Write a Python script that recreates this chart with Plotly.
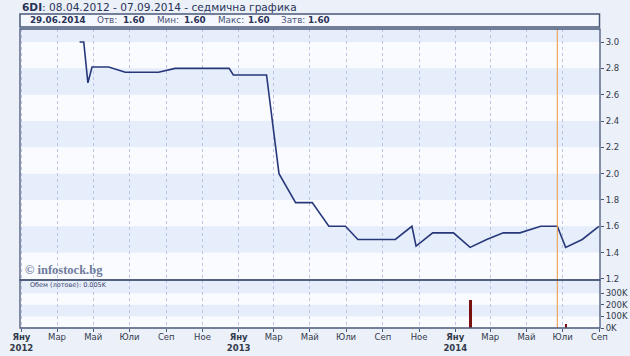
import plotly.graph_objects as go

# ---- data ----
price_dates = ["2012-04-08", "2012-04-15", "2012-04-22", "2012-04-29", "2012-05-27",
               "2012-06-24", "2012-08-19", "2012-09-16", "2012-12-16", "2012-12-23",
               "2013-02-17", "2013-03-10", "2013-04-07", "2013-05-05", "2013-06-02",
               "2013-06-30", "2013-07-21", "2013-09-22", "2013-10-20", "2013-10-27",
               "2013-11-24", "2013-12-29", "2014-01-26", "2014-02-23", "2014-03-23",
               "2014-04-20", "2014-05-25", "2014-06-22", "2014-07-06", "2014-08-03",
               "2014-08-31"]
price_values = [3.00, 3.00, 2.69, 2.81, 2.81,
                2.77, 2.77, 2.80, 2.80, 2.75,
                2.75, 2.00, 1.78, 1.78, 1.60,
                1.60, 1.50, 1.50, 1.60, 1.45,
                1.55, 1.55, 1.44, 1.50, 1.55,
                1.55, 1.60, 1.60, 1.44, 1.50,
                1.60]
volume_dates = ["2014-01-27", "2014-07-07"]
volume_values = [240000, 32000]

tick_dates = ["2012-01-01", "2012-03-01", "2012-05-01", "2012-07-01", "2012-09-01", "2012-11-01",
              "2013-01-01", "2013-03-01", "2013-05-01", "2013-07-01", "2013-09-01", "2013-11-01",
              "2014-01-01", "2014-03-01", "2014-05-01", "2014-07-01", "2014-09-01"]
month_names = ["Яну", "Мар", "Май", "Юли", "Сеп", "Ное",
               "Яну", "Мар", "Май", "Юли", "Сеп", "Ное",
               "Яну", "Мар", "Май", "Юли", "Сеп"]
year_names = ["2012", "", "", "", "", "",
              "2013", "", "", "", "", "",
              "2014", "", "", "", ""]
price_ticks = [1.2, 1.4, 1.6, 1.8, 2.0, 2.2, 2.4, 2.6, 2.8, 3.0]
volume_ticks = [0, 100000, 200000, 300000]
volume_tick_labels = ["0K", "100K", "200K", "300K"]
cursor_date = "2014-06-22"

title_code = "6DI"
title_rest = ": 08.04.2012 - 07.09.2014 - седмична графика"
info_date = "29.06.2014"
info_labels = ["Отв:", "Мин:", "Макс:", "Затв:"]
info_values = ["1.60", "1.60", "1.60", "1.60"]
volume_label = "Обем (лотове): 0.005K"
watermark = "© infostock.bg"

# ---- layout geometry ----
W, H = 630, 356
L, R, T, B = 20, 30, 29, 28
plot_h = H - T - B
split_px = 280
vol_top = (H - B - split_px) / plot_h


def px(xp):
    return (xp - L) / (W - L - R)


def py(yp):
    return (H - B - yp) / plot_h


tick_text = []
for m, y in zip(month_names, year_names):
    if y:
        tick_text.append(f"<b>{m}</b><br><b>{y}</b>")
    else:
        tick_text.append(m)

x_range = ["2011-12-29 14:00", "2014-09-01 22:00"]
p_range = [1.192, 3.099]
v_range = [0, 414000]

fig = go.Figure()
fig.add_trace(go.Scatter(x=price_dates, y=price_values, mode="lines",
                         line=dict(color="#27387a", width=1.6),
                         xaxis="x2", yaxis="y2", hoverinfo="skip"))
fig.add_trace(go.Bar(x=volume_dates, y=volume_values, width=4.2 * 86400000,
                     marker=dict(color="#7a1010", line=dict(width=0)),
                     xaxis="x", yaxis="y", hoverinfo="skip"))

shapes = []
band_col = "#e6eefb"
for lo, hi in [(1.4, 1.6), (1.8, 2.0), (2.2, 2.4), (2.6, 2.8), (3.0, p_range[1])]:
    shapes.append(dict(type="rect", xref="paper", yref="y2", x0=0, x1=1, y0=lo, y1=hi,
                       fillcolor=band_col, line=dict(width=0), layer="below"))
for lo, hi in [(100000, 200000), (300000, v_range[1])]:
    shapes.append(dict(type="rect", xref="paper", yref="y", x0=0, x1=1, y0=lo, y1=hi,
                       fillcolor=band_col, line=dict(width=0), layer="below"))
# cursor line
shapes.append(dict(type="line", xref="x", yref="paper", x0=cursor_date, x1=cursor_date,
                   y0=0, y1=1, line=dict(color="#eea04e", width=1.1), layer="above"))
# frames
frame_col = "#4a5878"
shapes.append(dict(type="rect", xref="paper", yref="paper", x0=0, x1=1, y0=vol_top, y1=1,
                   line=dict(color=frame_col, width=1.3), layer="above"))
shapes.append(dict(type="rect", xref="paper", yref="paper", x0=0, x1=1, y0=0, y1=vol_top,
                   line=dict(color=frame_col, width=1.3), layer="above"))
# info box
shapes.append(dict(type="rect", xref="paper", yref="paper", x0=0, x1=px(599.5),
                   y0=py(27), y1=py(14), fillcolor="#f4f7fd",
                   line=dict(color=frame_col, width=1.5), layer="above"))

ann = []
font_main = "DejaVu Sans"
ann.append(dict(xref="paper", yref="paper", x=px(20), y=py(7), xanchor="left", yanchor="middle",
                text=f"<b>{title_code}</b>{title_rest}", showarrow=False,
                font=dict(family=font_main, size=10.6, color="#2a3358")))
ann.append(dict(xref="paper", yref="paper", x=px(28), y=py(20.5), xanchor="left", yanchor="middle",
                text=f"<b>{info_date}</b>", showarrow=False,
                font=dict(family=font_main, size=8.8, color="#2a3358")))
label_x = [95, 155, 216, 279]
value_x = [121, 182, 246, 306]
for lab, val, lx, vx in zip(info_labels, info_values, label_x, value_x):
    ann.append(dict(xref="paper", yref="paper", x=px(lx), y=py(20.5), xanchor="left",
                    yanchor="middle", text=lab, showarrow=False,
                    font=dict(family=font_main, size=8.8, color="#4a5478")))
    ann.append(dict(xref="paper", yref="paper", x=px(vx), y=py(20.5), xanchor="left",
                    yanchor="middle", text=f"<b>{val}</b>", showarrow=False,
                    font=dict(family=font_main, size=8.8, color="#2a3358")))
ann.append(dict(xref="paper", yref="paper", x=px(23), y=py(269.5), xanchor="left", yanchor="middle",
                text=f"<b>{watermark}</b>", showarrow=False,
                font=dict(family="Liberation Serif", size=12.5, color="#6f7c9c")))
ann.append(dict(xref="paper", yref="paper", x=px(28), y=py(285), xanchor="left", yanchor="middle",
                text=volume_label, showarrow=False,
                font=dict(family=font_main, size=6.5, color="#3a4468")))

axis_font = dict(family=font_main, size=8.5, color="#333a4a")
grid = dict(showgrid=True, gridcolor="#bcc4e2", griddash="dot", gridwidth=1)

fig.update_layout(
    width=W, height=H,
    margin=dict(l=L, r=R, t=T, b=B, pad=0, autoexpand=False),
    paper_bgcolor="#ebf0f9",
    plot_bgcolor="#fafbff",
    showlegend=False,
    bargap=0,
    shapes=shapes,
    annotations=ann,
    xaxis=dict(type="date", range=x_range, domain=[0, 1], anchor="y", automargin=False,
               tickmode="array", tickvals=tick_dates, ticktext=tick_text,
               ticks="outside", ticklen=3, tickcolor=frame_col, tickfont=axis_font,
               ticklabelstandoff=-2,
               showline=False, zeroline=False, fixedrange=True, **grid),
    yaxis=dict(domain=[0, vol_top], range=v_range, side="right", anchor="x", automargin=False,
               tickmode="array", tickvals=volume_ticks, ticktext=volume_tick_labels,
               ticks="outside", ticklen=3, tickcolor=frame_col, tickfont=axis_font,
               showgrid=False, zeroline=False, showline=False, fixedrange=True),
    xaxis2=dict(type="date", range=x_range, domain=[0, 1], anchor="y2", automargin=False,
                tickmode="array", tickvals=tick_dates, showticklabels=False,
                ticks="", showline=False, zeroline=False, fixedrange=True, **grid),
    yaxis2=dict(domain=[vol_top, 1], range=p_range, side="right", anchor="x2", automargin=False,
                tickmode="array", tickvals=price_ticks,
                ticktext=[f"{v:.1f}" for v in price_ticks],
                ticks="outside", ticklen=3, tickcolor=frame_col, tickfont=axis_font,
                showgrid=False, zeroline=False, showline=False, fixedrange=True),
)

fig.write_html("out.html", config={"displayModeBar": False},
               post_script="document.body.style.margin='0';document.body.style.background='#ebf0f9';")
